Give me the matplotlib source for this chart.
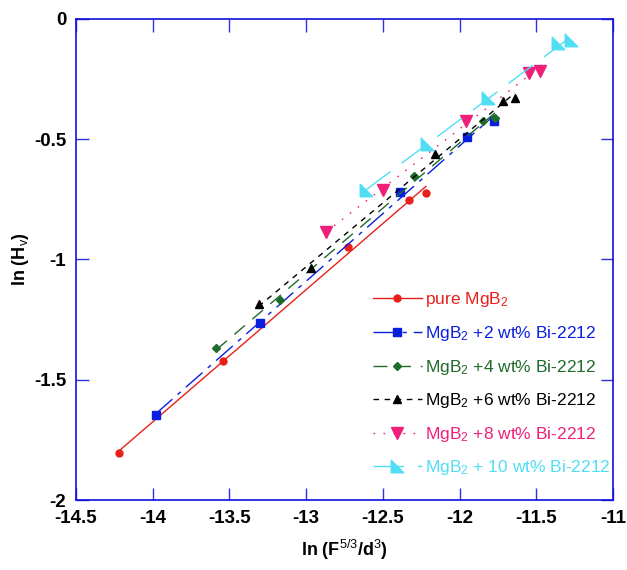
import numpy as np
import matplotlib
matplotlib.use("Agg")
import matplotlib.pyplot as plt
from matplotlib.path import Path
from matplotlib.lines import Line2D

plt.rcParams['font.family'] = ['Liberation Sans', 'DejaVu Sans']
plt.rcParams['mathtext.fontset'] = 'custom'
plt.rcParams['mathtext.rm'] = 'Liberation Sans'
plt.rcParams['mathtext.it'] = 'Liberation Sans'
plt.rcParams['mathtext.bf'] = 'Liberation Sans:bold'

# ln(F^{5/3}/d^3) and ln(Hv) for each Bi-2212 content
x_pure = [-14.22, -13.54, -12.73, -12.33, -12.22]
y_pure = [-1.805, -1.422, -0.946, -0.751, -0.725]

x_2 = [-13.98, -13.30, -12.39, -11.95, -11.775]
y_2 = [-1.647, -1.263, -0.721, -0.492, -0.425]

x_4 = [-13.585, -13.17, -12.30, -11.85, -11.77]
y_4 = [-1.369, -1.168, -0.653, -0.426, -0.411]

x_6 = [-13.31, -12.97, -12.16, -11.72, -11.64]
y_6 = [-1.185, -1.036, -0.5625, -0.340, -0.328]

x_8 = [-12.87, -12.50, -11.96, -11.55, -11.476]
y_8 = [-0.885, -0.710, -0.425, -0.224, -0.217]

x_10 = [-12.61, -12.21, -11.816, -11.36, -11.275]
y_10 = [-0.7125, -0.520, -0.328, -0.101, -0.089]

labels = [r'pure MgB$_2$',
          r'MgB$_2$ +2 wt% Bi-2212',
          r'MgB$_2$ +4 wt% Bi-2212',
          r'MgB$_2$ +6 wt% Bi-2212',
          r'MgB$_2$ +8 wt% Bi-2212',
          r'MgB$_2$ + 10 wt% Bi-2212']

corner_tri = Path([(-1, -1), (-1, 1), (1, -1), (-1, -1)],
                  [Path.MOVETO, Path.LINETO, Path.LINETO, Path.CLOSEPOLY])

styles = [
    dict(color='#e8201a', marker='o', ms=5, dashes=()),
    dict(color='#0a1ee0', marker='s', ms=6, dashes=(16, 5, 3, 5)),
    dict(color='#1f6b2a', marker='D', ms=4, dashes=(10, 7)),
    dict(color='#000000', marker='^', ms=6, dashes=(4, 4)),
    dict(color='#f0207a', marker='v', ms=8, dashes=(1.2, 6)),
    dict(color='#50def5', marker=corner_tri, ms=9, dashes=(22, 10)),
]

series = [(x_pure, y_pure), (x_2, y_2), (x_4, y_4),
          (x_6, y_6), (x_8, y_8), (x_10, y_10)]

fig = plt.figure(figsize=(6.27, 5.70), dpi=100)
ax = fig.add_axes([0.121, 0.1228, 0.857, 0.8439])

handles = []
for (xs, ys), st in zip(series, styles):
    xs = np.array(xs)
    ys = np.array(ys)
    # least-squares line through each series
    slope, icpt = np.polyfit(xs, ys, 1)
    xf = np.array([xs.min(), xs.max()])
    line, = ax.plot(xf, slope * xf + icpt, color=st['color'], lw=1.0)
    if st['dashes']:
        line.set_dashes(st['dashes'])
    ax.plot(xs, ys, ls='none', marker=st['marker'], ms=st['ms'],
            color=st['color'], mec=st['color'])
    h = Line2D([], [], color=st['color'], lw=1.0, marker=st['marker'],
               ms=st['ms'])
    if st['dashes']:
        h.set_dashes(st['dashes'])
    handles.append(h)

ax.set_xlim(-14.5, -11)
ax.set_ylim(-2, 0)
ax.set_xticks(np.arange(-14.5, -10.9, 0.5))
ax.set_xticklabels(['-14.5', '-14', '-13.5', '-13', '-12.5', '-12', '-11.5', '-11'])
ax.set_yticks([-2, -1.5, -1, -0.5, 0])
ax.set_yticklabels(['-2', '-1.5', '-1', '-0.5', '0'])

for sp in ax.spines.values():
    sp.set_color('#1010d8')
    sp.set_linewidth(1.2)
ax.tick_params(direction='in', length=9, width=1.0, color='#3030e0',
               top=True, right=True, labelsize=13.5, pad=7)
for t in ax.get_xticklabels() + ax.get_yticklabels():
    t.set_fontweight('bold')

ax.set_xlabel(r'ln (F$^{5/3}$/d$^3$)', fontsize=13, fontweight='bold', labelpad=8)
ax.set_ylabel(r'ln (H$_v$)', fontsize=13, fontweight='bold', labelpad=2)

ax.legend(handles, labels, loc='upper left', bbox_to_anchor=(0.54, 0.45),
          frameon=False, fontsize=12.5, handlelength=2.8, handletextpad=0.2,
          labelspacing=0.84, numpoints=1, labelcolor='linecolor',
          borderaxespad=0)

fig.savefig('out.png', dpi=100)
